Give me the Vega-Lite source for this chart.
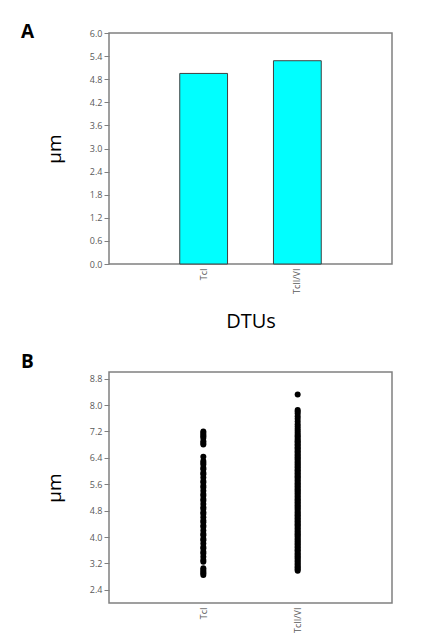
{
  "$schema": "https://vega.github.io/schema/vega-lite/v6.json",
  "background": "white",
  "padding": {"left": 20, "top": 22, "right": 5, "bottom": 0},
  "spacing": 19,
  "datasets": {
    "means": [
      {"dtu": "TcI", "um": 4.95},
      {"dtu": "TcII/VI", "um": 5.28}
    ],
    "points": [
      {"dtu": "TcI", "um": 2.85}, {"dtu": "TcI", "um": 2.9}, {"dtu": "TcI", "um": 2.95}, {"dtu": "TcI", "um": 3.0}, {"dtu": "TcI", "um": 3.05},
      {"dtu": "TcI", "um": 3.25}, {"dtu": "TcI", "um": 3.3}, {"dtu": "TcI", "um": 3.4}, {"dtu": "TcI", "um": 3.5}, {"dtu": "TcI", "um": 3.55},
      {"dtu": "TcI", "um": 3.65}, {"dtu": "TcI", "um": 3.7}, {"dtu": "TcI", "um": 3.8}, {"dtu": "TcI", "um": 3.9}, {"dtu": "TcI", "um": 3.95},
      {"dtu": "TcI", "um": 4.05}, {"dtu": "TcI", "um": 4.1}, {"dtu": "TcI", "um": 4.2}, {"dtu": "TcI", "um": 4.3}, {"dtu": "TcI", "um": 4.35},
      {"dtu": "TcI", "um": 4.45}, {"dtu": "TcI", "um": 4.5}, {"dtu": "TcI", "um": 4.6}, {"dtu": "TcI", "um": 4.7}, {"dtu": "TcI", "um": 4.75},
      {"dtu": "TcI", "um": 4.85}, {"dtu": "TcI", "um": 4.9}, {"dtu": "TcI", "um": 5.0}, {"dtu": "TcI", "um": 5.1}, {"dtu": "TcI", "um": 5.15},
      {"dtu": "TcI", "um": 5.25}, {"dtu": "TcI", "um": 5.3}, {"dtu": "TcI", "um": 5.4}, {"dtu": "TcI", "um": 5.5}, {"dtu": "TcI", "um": 5.55},
      {"dtu": "TcI", "um": 5.65}, {"dtu": "TcI", "um": 5.7}, {"dtu": "TcI", "um": 5.8}, {"dtu": "TcI", "um": 5.9}, {"dtu": "TcI", "um": 5.95},
      {"dtu": "TcI", "um": 6.05}, {"dtu": "TcI", "um": 6.1}, {"dtu": "TcI", "um": 6.2}, {"dtu": "TcI", "um": 6.25}, {"dtu": "TcI", "um": 6.3},
      {"dtu": "TcI", "um": 6.43}, {"dtu": "TcI", "um": 6.8}, {"dtu": "TcI", "um": 6.85}, {"dtu": "TcI", "um": 6.9}, {"dtu": "TcI", "um": 7.0},
      {"dtu": "TcI", "um": 7.05}, {"dtu": "TcI", "um": 7.1}, {"dtu": "TcI", "um": 7.15}, {"dtu": "TcI", "um": 7.2},
      {"dtu": "TcII/VI", "um": 2.98}, {"dtu": "TcII/VI", "um": 3.02}, {"dtu": "TcII/VI", "um": 3.07}, {"dtu": "TcII/VI", "um": 3.1}, {"dtu": "TcII/VI", "um": 3.15},
      {"dtu": "TcII/VI", "um": 3.19}, {"dtu": "TcII/VI", "um": 3.24}, {"dtu": "TcII/VI", "um": 3.28}, {"dtu": "TcII/VI", "um": 3.33}, {"dtu": "TcII/VI", "um": 3.37},
      {"dtu": "TcII/VI", "um": 3.42}, {"dtu": "TcII/VI", "um": 3.46}, {"dtu": "TcII/VI", "um": 3.5}, {"dtu": "TcII/VI", "um": 3.55}, {"dtu": "TcII/VI", "um": 3.6},
      {"dtu": "TcII/VI", "um": 3.64}, {"dtu": "TcII/VI", "um": 3.69}, {"dtu": "TcII/VI", "um": 3.73}, {"dtu": "TcII/VI", "um": 3.78}, {"dtu": "TcII/VI", "um": 3.82},
      {"dtu": "TcII/VI", "um": 3.86}, {"dtu": "TcII/VI", "um": 3.91}, {"dtu": "TcII/VI", "um": 3.95}, {"dtu": "TcII/VI", "um": 4.0}, {"dtu": "TcII/VI", "um": 4.04},
      {"dtu": "TcII/VI", "um": 4.08}, {"dtu": "TcII/VI", "um": 4.12}, {"dtu": "TcII/VI", "um": 4.17}, {"dtu": "TcII/VI", "um": 4.21}, {"dtu": "TcII/VI", "um": 4.26},
      {"dtu": "TcII/VI", "um": 4.3}, {"dtu": "TcII/VI", "um": 4.35}, {"dtu": "TcII/VI", "um": 4.39}, {"dtu": "TcII/VI", "um": 4.43}, {"dtu": "TcII/VI", "um": 4.48},
      {"dtu": "TcII/VI", "um": 4.52}, {"dtu": "TcII/VI", "um": 4.57}, {"dtu": "TcII/VI", "um": 4.61}, {"dtu": "TcII/VI", "um": 4.66}, {"dtu": "TcII/VI", "um": 4.7},
      {"dtu": "TcII/VI", "um": 4.74}, {"dtu": "TcII/VI", "um": 4.79}, {"dtu": "TcII/VI", "um": 4.83}, {"dtu": "TcII/VI", "um": 4.88}, {"dtu": "TcII/VI", "um": 4.92},
      {"dtu": "TcII/VI", "um": 4.96}, {"dtu": "TcII/VI", "um": 5.01}, {"dtu": "TcII/VI", "um": 5.05}, {"dtu": "TcII/VI", "um": 5.1}, {"dtu": "TcII/VI", "um": 5.14},
      {"dtu": "TcII/VI", "um": 5.18}, {"dtu": "TcII/VI", "um": 5.23}, {"dtu": "TcII/VI", "um": 5.27}, {"dtu": "TcII/VI", "um": 5.32}, {"dtu": "TcII/VI", "um": 5.36},
      {"dtu": "TcII/VI", "um": 5.4}, {"dtu": "TcII/VI", "um": 5.45}, {"dtu": "TcII/VI", "um": 5.49}, {"dtu": "TcII/VI", "um": 5.54}, {"dtu": "TcII/VI", "um": 5.58},
      {"dtu": "TcII/VI", "um": 5.62}, {"dtu": "TcII/VI", "um": 5.67}, {"dtu": "TcII/VI", "um": 5.71}, {"dtu": "TcII/VI", "um": 5.76}, {"dtu": "TcII/VI", "um": 5.8},
      {"dtu": "TcII/VI", "um": 5.84}, {"dtu": "TcII/VI", "um": 5.89}, {"dtu": "TcII/VI", "um": 5.93}, {"dtu": "TcII/VI", "um": 5.98}, {"dtu": "TcII/VI", "um": 6.02},
      {"dtu": "TcII/VI", "um": 6.06}, {"dtu": "TcII/VI", "um": 6.11}, {"dtu": "TcII/VI", "um": 6.15}, {"dtu": "TcII/VI", "um": 6.2}, {"dtu": "TcII/VI", "um": 6.24},
      {"dtu": "TcII/VI", "um": 6.28}, {"dtu": "TcII/VI", "um": 6.33}, {"dtu": "TcII/VI", "um": 6.37}, {"dtu": "TcII/VI", "um": 6.42}, {"dtu": "TcII/VI", "um": 6.46},
      {"dtu": "TcII/VI", "um": 6.5}, {"dtu": "TcII/VI", "um": 6.55}, {"dtu": "TcII/VI", "um": 6.59}, {"dtu": "TcII/VI", "um": 6.64}, {"dtu": "TcII/VI", "um": 6.68},
      {"dtu": "TcII/VI", "um": 6.72}, {"dtu": "TcII/VI", "um": 6.77}, {"dtu": "TcII/VI", "um": 6.81}, {"dtu": "TcII/VI", "um": 6.86}, {"dtu": "TcII/VI", "um": 6.9},
      {"dtu": "TcII/VI", "um": 6.95}, {"dtu": "TcII/VI", "um": 7.0}, {"dtu": "TcII/VI", "um": 7.05}, {"dtu": "TcII/VI", "um": 7.1}, {"dtu": "TcII/VI", "um": 7.16},
      {"dtu": "TcII/VI", "um": 7.22}, {"dtu": "TcII/VI", "um": 7.28}, {"dtu": "TcII/VI", "um": 7.35}, {"dtu": "TcII/VI", "um": 7.42}, {"dtu": "TcII/VI", "um": 7.5},
      {"dtu": "TcII/VI", "um": 7.58}, {"dtu": "TcII/VI", "um": 7.66}, {"dtu": "TcII/VI", "um": 7.74}, {"dtu": "TcII/VI", "um": 7.8}, {"dtu": "TcII/VI", "um": 7.85},
      {"dtu": "TcII/VI", "um": 8.32}
    ]
  },
  "vconcat": [
    {
      "width": 283,
      "height": 231,
      "title": {"text": "A", "anchor": "start", "frame": "group", "fontSize": 19, "fontWeight": "bold", "font": "Open Sans", "color": "black", "offset": 0, "dx": -88, "dy": 28, "baseline": "alphabetic"},
      "data": {"name": "means"},
      "mark": {"type": "bar", "fill": "#00FFFF", "stroke": "#404040", "strokeWidth": 1},
      "encoding": {
        "x": {"field": "dtu", "type": "nominal", "sort": null,
          "scale": {"paddingInner": 0.49, "paddingOuter": 0.755},
          "axis": {"title": "DTUs", "labelAngle": 270, "ticks": false, "domain": false, "labelPadding": 4, "titlePadding": 18, "titleFontSize": 20}},
        "y": {"field": "um", "type": "quantitative",
          "scale": {"domain": [0, 6], "nice": false, "zero": true},
          "axis": {"title": "µm", "values": [0, 0.6, 1.2, 1.8, 2.4, 3.0, 3.6, 4.2, 4.8, 5.4, 6.0], "format": ".1f", "grid": false, "domain": false, "titlePadding": 25}}
      }
    },
    {
      "width": 283,
      "height": 231,
      "title": {"text": "B", "anchor": "start", "frame": "group", "fontSize": 19, "fontWeight": "bold", "font": "Open Sans", "color": "black", "offset": 0, "dx": -88, "dy": 15, "baseline": "alphabetic"},
      "data": {"name": "points"},
      "mark": {"type": "circle", "size": 36, "color": "black", "opacity": 1},
      "encoding": {
        "x": {"field": "dtu", "type": "nominal", "sort": null,
          "scale": {"type": "point", "padding": 1},
          "axis": {"title": null, "labelAngle": 270, "ticks": false, "domain": false, "labelPadding": 4}},
        "y": {"field": "um", "type": "quantitative",
          "scale": {"domain": [2, 9], "nice": false, "zero": false},
          "axis": {"title": "µm", "values": [2.4, 3.2, 4.0, 4.8, 5.6, 6.4, 7.2, 8.0, 8.8], "format": ".1f", "grid": false, "domain": false, "titlePadding": 25}}
      }
    }
  ],
  "config": {
    "view": {"stroke": "#808080", "strokeWidth": 1.5},
    "axis": {
      "labelFont": "Open Sans", "labelFontSize": 9, "labelColor": "#595959",
      "tickColor": "#808080", "tickSize": 5, "labelPadding": 2,
      "titleFont": "Open Sans", "titleFontSize": 19, "titleFontWeight": "normal", "titleColor": "black"
    }
  }
}
